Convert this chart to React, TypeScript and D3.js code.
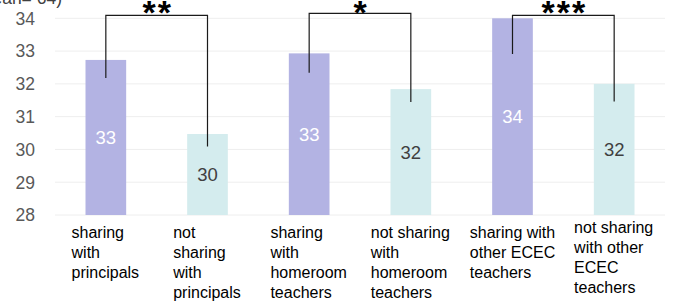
import React, { useEffect, useRef } from "react";
import * as d3 from "d3";

const categories = [
  "sharing with principals",
  "not sharing with principals",
  "sharing with homeroom teachers",
  "not sharing with homeroom teachers",
  "sharing with other ECEC teachers",
  "not sharing with other ECEC teachers",
];
const categoryLines = [
  ["sharing", "with", "principals"],
  ["not", "sharing", "with", "principals"],
  ["sharing", "with", "homeroom", "teachers"],
  ["not sharing", "with", "homeroom", "teachers"],
  ["sharing with", "other ECEC", "teachers"],
  ["not sharing", "with other", "ECEC", "teachers"],
];
const values = [32.73, 30.47, 32.93, 31.84, 34.0, 32.0];
const valueLabels = ["33", "30", "33", "32", "34", "32"];
const groupKind = ["sharing", "not", "sharing", "not", "sharing", "not"];
const yTicks = [28, 29, 30, 31, 32, 33, 34];
const titleText = "(mean= 64)";

// significance brackets: from bar i to bar j, top level, left end value, right end value, stars
const bracketFrom = [0, 2, 4];
const bracketTo = [1, 3, 5];
const bracketTop = [34.09, 34.15, 34.09];
const bracketLeftEnd = [32.18, 32.34, 32.91];
const bracketRightEnd = [30.09, 31.45, 31.46];
const bracketStars = ["**", "*", "***"];

const W = 679;
const H = 304;

export default function App() {
  const ref = useRef<SVGSVGElement | null>(null);

  useEffect(() => {
    document.body.style.margin = "0";
    const svg = d3.select(ref.current);
    svg.selectAll("*").remove();

    const left = 55;
    const right = 665;
    const x = d3.scaleBand<number>().domain(d3.range(categories.length)).range([left, right]).paddingInner(0.6).paddingOuter(0.3);
    const y = d3.scaleLinear().domain([28, 34]).range([215, 18.3]);
    const font = "'Liberation Sans', Arial, sans-serif";
    const fill = (k: string) => (k === "sharing" ? "#b3b3e3" : "#d4ecee");

    // gridlines
    svg.append("g")
      .selectAll("line")
      .data(yTicks)
      .join("line")
      .attr("x1", left)
      .attr("x2", right)
      .attr("y1", (d) => y(d))
      .attr("y2", (d) => y(d))
      .attr("stroke", "#eeeeee")
      .attr("stroke-width", 1);

    // y tick labels
    svg.append("g")
      .selectAll("text")
      .data(yTicks)
      .join("text")
      .attr("x", 35)
      .attr("y", (d) => y(d))
      .attr("dy", "0.36em")
      .attr("text-anchor", "end")
      .attr("font-family", font)
      .attr("font-size", 17.5)
      .attr("fill", "#595959")
      .text((d) => String(d));

    // title fragment cut off at top
    svg.append("text")
      .attr("x", 62)
      .attr("y", 4)
      .attr("text-anchor", "end")
      .attr("font-family", font)
      .attr("font-size", 17.5)
      .attr("fill", "#404040")
      .text(titleText);

    // bars
    svg.append("g")
      .selectAll("rect")
      .data(values)
      .join("rect")
      .attr("x", (_, i) => x(i)!)
      .attr("width", x.bandwidth())
      .attr("y", (d) => y(d))
      .attr("height", (d) => y(28) - y(d))
      .attr("fill", (_, i) => fill(groupKind[i]));

    // value labels
    svg.append("g")
      .selectAll("text")
      .data(values)
      .join("text")
      .attr("x", (_, i) => x(i)! + x.bandwidth() / 2)
      .attr("y", (d) => (y(d) + y(28)) / 2)
      .attr("dy", "0.36em")
      .attr("text-anchor", "middle")
      .attr("font-family", font)
      .attr("font-size", 18.5)
      .attr("fill", (_, i) => (groupKind[i] === "sharing" ? "#ffffff" : "#404040"))
      .text((_, i) => valueLabels[i]);

    // category labels
    const lineH = 20;
    categoryLines.forEach((lines, i) => {
      const g = svg.append("g");
      const t = g.append("text")
        .attr("font-family", font)
        .attr("font-size", 16)
        .attr("fill", "#000000");
      lines.forEach((ln, k) => {
        t.append("tspan").attr("x", 0).attr("y", k * lineH).text(ln);
      });
      const bb = (t.node() as SVGTextElement).getBBox();
      const cx = x(i)! + x.bandwidth() / 2;
      const topShift = i === 5 ? -5 : 0;
      g.attr("transform", `translate(${cx - bb.width / 2},${238 + topShift})`);
    });

    // brackets
    const cxOf = (i: number) => x(i)! + x.bandwidth() / 2;
    bracketFrom.forEach((a, k) => {
      const b = bracketTo[k];
      const x1 = cxOf(a);
      const x2 = cxOf(b);
      const yt = y(bracketTop[k]);
      const path = d3.path();
      path.moveTo(x1, y(bracketLeftEnd[k]));
      path.lineTo(x1, yt);
      path.lineTo(x2, yt);
      path.lineTo(x2, y(bracketRightEnd[k]));
      svg.append("path")
        .attr("d", path.toString())
        .attr("fill", "none")
        .attr("stroke", "#1a1a1a")
        .attr("stroke-width", 1.2);
      const stars = bracketStars[k];
      svg.append("text")
        .attr("x", (x1 + x2) / 2 + 1)
        .attr("y", 24)
        .attr("text-anchor", "middle")
        .attr("font-family", font)
        .attr("font-weight", "bold")
        .attr("font-size", 34)
        .attr("letter-spacing", 2)
        .attr("fill", "#000000")
        .text(stars);
    });
  }, []);

  return <svg ref={ref} width={W} height={H} style={{ display: "block", background: "#ffffff" }} />;
}
